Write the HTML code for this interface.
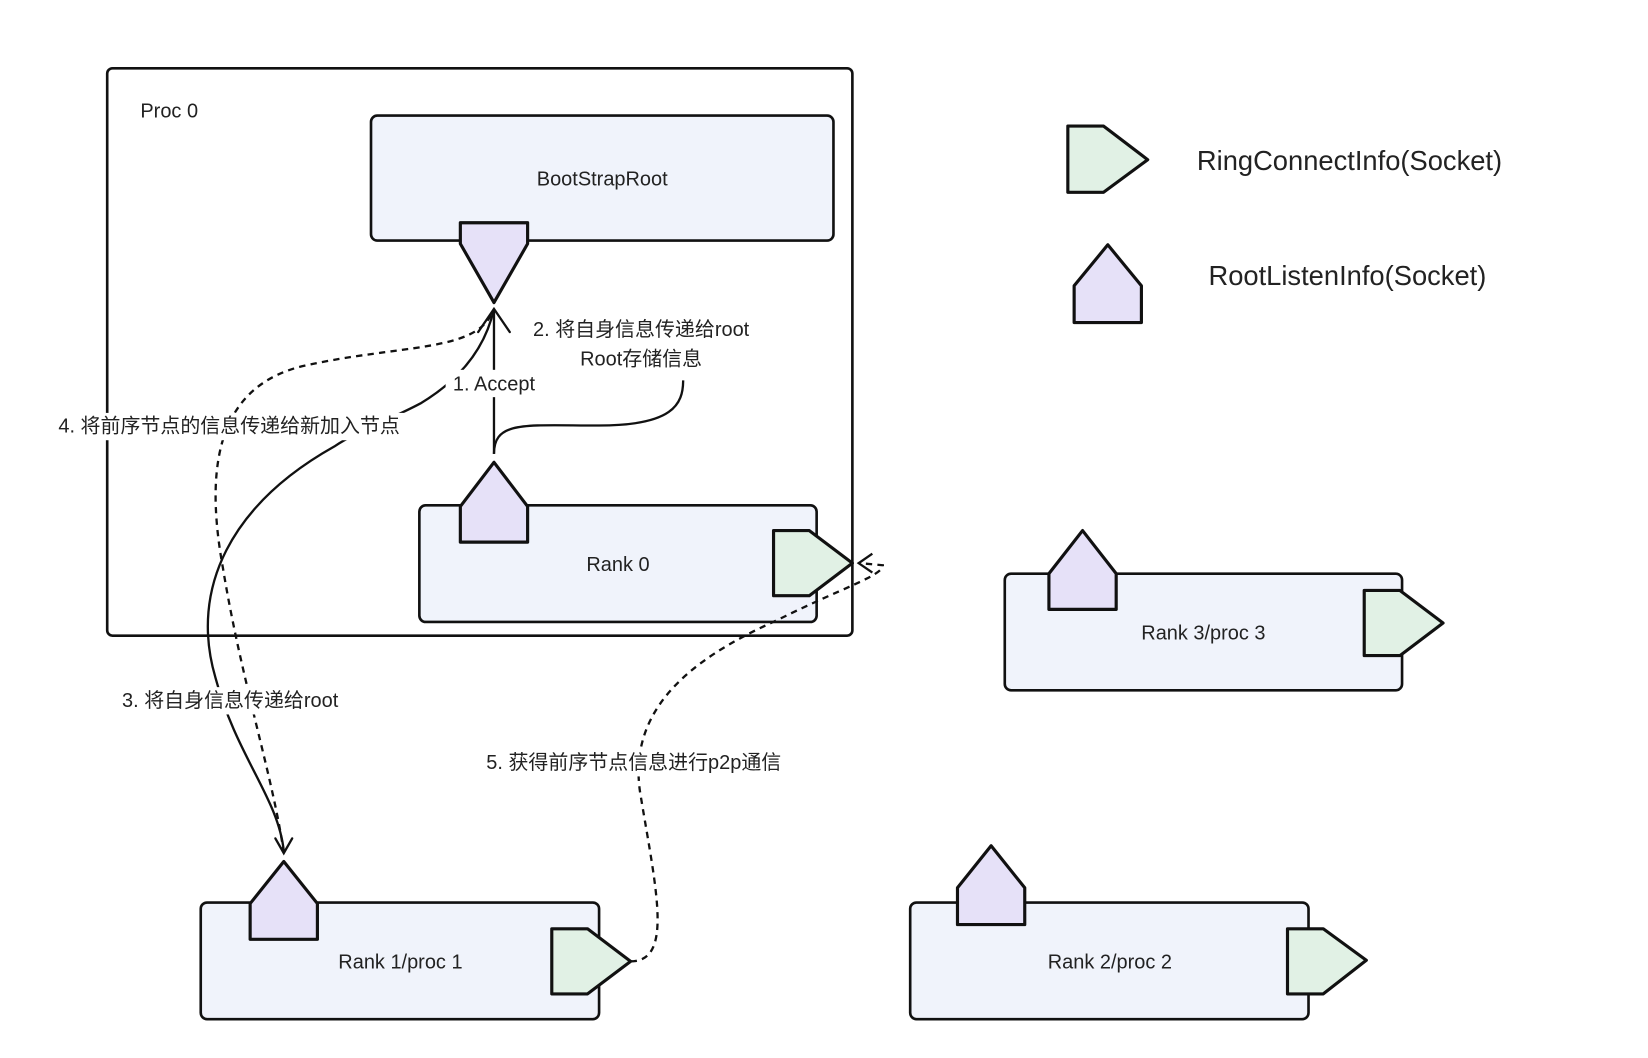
<!DOCTYPE html>
<html><head><meta charset="utf-8"><style>
html,body{margin:0;padding:0;background:#fff;}
svg{display:block;}
text{font-family:"Liberation Sans","Noto Sans CJK SC",sans-serif;fill:#222;}
</style></head><body>
<svg width="1648" height="1058" viewBox="0 0 1568 1007" preserveAspectRatio="none" xmlns="http://www.w3.org/2000/svg">
<g stroke="#111" stroke-width="2.5" stroke-linejoin="round">
<rect x="102" y="65" width="709" height="540" rx="5" fill="#fff"/>
<rect x="353" y="110" width="440" height="119" rx="6" fill="#f0f3fb"/>
<rect x="399" y="481" width="378" height="111" rx="6" fill="#f0f3fb"/>
<rect x="956" y="546" width="378" height="111" rx="6" fill="#f0f3fb"/>
<rect x="191" y="859" width="379" height="111" rx="6" fill="#f0f3fb"/>
<rect x="866" y="859" width="379" height="111" rx="6" fill="#f0f3fb"/>
</g>
<g fill="none" stroke="#111" stroke-width="2.2">
<path d="M470,432 L470,294"/>
<path d="M470,432 C470,400 500,405 570,405 C640,405 650,385 650,362"/>
<path d="M470,294 C462,330 440,360 400,384 C370,400 340,410 318,425 C220,480 180,560 205,645 C225,720 265,760 270,810"/>
<path d="M455,316 L470,294 L485,316" stroke-linecap="round"/>
<path d="M262,798 L270,812 L278,798" stroke-linecap="round"/>
</g>
<g fill="none" stroke="#111" stroke-width="2.2" stroke-dasharray="6,5">
<path d="M270,812 C260,740 230,650 212,540 C192,430 215,365 290,348 C380,328 452,335 468,298"/>
<path d="M600,915 C640,915 625,850 610,760 C595,680 650,630 740,590 C800,560 840,548 840,538 L818,536"/>
</g>
<path d="M830,527 L817,536 L830,545" fill="none" stroke="#111" stroke-width="2.2"/>
<g stroke="#111" stroke-width="3" stroke-linejoin="round">
<path d="M438,212 L502,212 L502,232 L470,288 L438,232 Z" fill="#e6e1f8"/>
<path d="M438,516 L502,516 L502,482 L470,440 L438,482 Z" fill="#e6e1f8"/>
<path d="M736,505 L770,505 L811,536 L770,567 L736,567 Z" fill="#e1f1e5"/>
<path d="M998,580 L1062,580 L1062,546 L1030,505 L998,546 Z" fill="#e6e1f8"/>
<path d="M1298,562 L1332,562 L1373,593 L1332,624 L1298,624 Z" fill="#e1f1e5"/>
<path d="M238,894 L302,894 L302,860 L270,820 L238,860 Z" fill="#e6e1f8"/>
<path d="M525,884 L559,884 L600,915 L559,946 L525,946 Z" fill="#e1f1e5"/>
<path d="M911,880 L975,880 L975,845 L943,805 L911,845 Z" fill="#e6e1f8"/>
<path d="M1225,884 L1259,884 L1300,914 L1259,946 L1225,946 Z" fill="#e1f1e5"/>
<path d="M1016,120 L1050,120 L1092,152 L1050,183 L1016,183 Z" fill="#e1f1e5"/>
<path d="M1022,307 L1086,307 L1086,272 L1054,233 L1022,272 Z" fill="#e6e1f8"/>
</g>
<g fill="#fff">
<rect x="424" y="352" width="92" height="26"/>
<rect x="48" y="393" width="340" height="26"/>
<rect x="106" y="654" width="226" height="26"/>
<rect x="453" y="713" width="300" height="26"/>
<rect x="496" y="301" width="228" height="54"/>
</g>
<g font-size="19" text-anchor="middle" dominant-baseline="central">
<text x="161" y="106">Proc 0</text>
<text x="573" y="171">BootStrapRoot</text>
<text x="588" y="538">Rank 0</text>
<text x="1145" y="603">Rank 3/proc 3</text>
<text x="381" y="916">Rank 1/proc 1</text>
<text x="1056" y="916">Rank 2/proc 2</text>
<text x="470" y="366">1. Accept</text>
<text x="610" y="314">2. 将自身信息传递给root</text>
<text x="610" y="342">Root存储信息</text>
<text x="218" y="406">4. 将前序节点的信息传递给新加入节点</text>
<text x="219" y="667">3. 将自身信息传递给root</text>
<text x="603" y="726">5. 获得前序节点信息进行p2p通信</text>
<text x="1284" y="153" font-size="26">RingConnectInfo(Socket)</text>
<text x="1282" y="262" font-size="26">RootListenInfo(Socket)</text>
</g>
</svg>
</body></html>
